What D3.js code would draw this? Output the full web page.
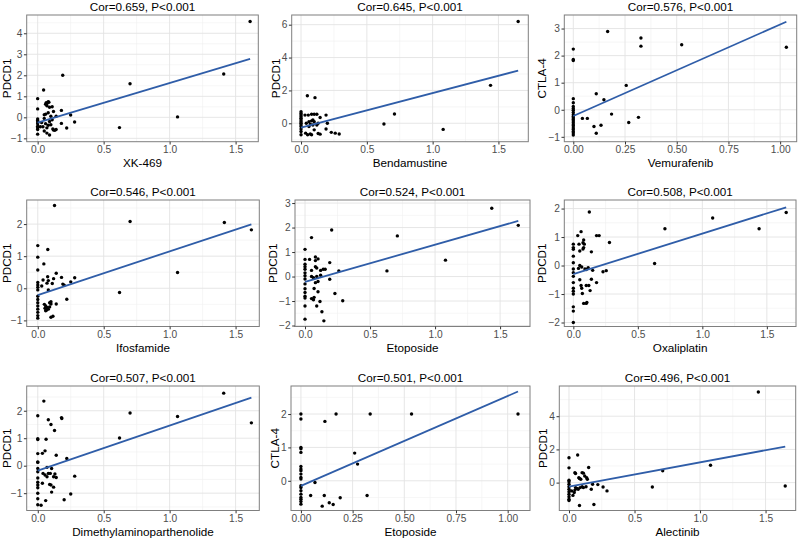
<!DOCTYPE html>
<html lang="en">
<head>
  <meta charset="utf-8" />
  <style>
    body { margin: 0; background: #fff; }
    text { font-family: "Liberation Sans", Arial, sans-serif; }
  </style>
</head>
<body>
  <div id="chart"></div>
  <script src="https://cdnjs.cloudflare.com/ajax/libs/d3/7.8.5/d3.min.js"></script>
  <script>
    // ---- data ----
    const titles = ["Cor=0.659, P<0.001", "Cor=0.645, P<0.001", "Cor=0.576, P<0.001",
      "Cor=0.546, P<0.001", "Cor=0.524, P<0.001", "Cor=0.508, P<0.001",
      "Cor=0.507, P<0.001", "Cor=0.501, P<0.001", "Cor=0.496, P<0.001"];
    const xLabels = ["XK-469", "Bendamustine", "Vemurafenib", "Ifosfamide", "Etoposide",
      "Oxaliplatin", "Dimethylaminoparthenolide", "Etoposide", "Alectinib"];
    const yLabels = ["PDCD1", "PDCD1", "CTLA-4", "PDCD1", "PDCD1", "PDCD1", "PDCD1", "CTLA-4", "PDCD1"];

    const xDomains = [[-0.083, 1.672], [-0.071, 1.727], [-0.0435, 1.08], [-0.084, 1.68], [-0.077, 1.73],
      [-0.07, 1.726], [-0.084, 1.68], [-0.048, 1.108], [-0.074, 1.73]];
    const yDomains = [[-1.16, 4.87], [-1.12, 6.59], [-1.18, 3.50], [-1.19, 2.75], [-2.04, 3.125],
      [-2.14, 2.30], [-1.63, 2.90], [-0.89, 2.84], [-1.68, 5.82]];

    const xTicksA = [0, 0.5, 1.0, 1.5];
    const xTicksB = [0, 0.25, 0.5, 0.75, 1.0];
    const xTicks = [xTicksA, xTicksA, xTicksB, xTicksA, xTicksA, xTicksA, xTicksA, xTicksB, xTicksA];
    const yTicks = [[-1, 0, 1, 2, 3, 4], [0, 2, 4, 6], [-1, 0, 1, 2, 3], [-1, 0, 1, 2], [-2, -1, 0, 1, 2, 3],
      [-2, -1, 0, 1, 2], [-1, 0, 1, 2], [0, 1, 2], [0, 2, 4]];

    // fitted lines: intercept and slope
    const intercepts = [-0.25, -0.26, -0.23, -0.21, -0.22, -0.30, -0.18, -0.15, -0.24];
    const slopes = [1.88, 2.10, 3.38, 1.36, 1.52, 1.42, 1.64, 2.69, 1.46];

    const xk469 = [[1.61,4.56],[1.41,2.06],[0.70,1.60],[0.19,2.0],[1.06,0.02],[0.62,-0.49],
      [0,0.89],[0,0.40],[0,-0.08],[0,-0.15],[0,-0.22],[0,-0.3],[0,-0.42],[0,-0.5],[0,-0.58],[0,-0.8],
      [0.045,1.30],[0.06,0.62],[0.065,0.70],[0.07,0.66],[0.08,0.74],[0.085,0.72],[0.07,0.55],[0.09,0.48],[0.11,0.5],[0.12,0.28],
      [0.05,0.12],[0.06,0.15],[0.08,0.22],[0.1,0.05],[0.14,0.05],[0.18,0.33],[0.18,-0.29],[0.25,0.11],[0.28,-0.22],[0.22,-0.51],
      [0.12,-0.6],[0.13,-0.62],[0.115,-0.55],[0.14,-0.58],[0.09,-0.84],[0.07,-0.75],[0.05,-0.65],[0.04,-0.45],[0.06,-0.3],
      [0.07,-0.5],[0.09,-0.2],[0.1,-0.35],[0.03,-0.25],[0.02,-0.45],[0.08,-0.38],[0.11,-0.12],[0.05,-0.05]];
    const bendamustine = [[1.65,6.19],[1.44,2.31],[0.71,0.57],[0.63,-0.04],[1.08,-0.37],[0.048,1.68],[0.106,1.56],
      [0,0.7],[0,0.6],[0,0.5],[0,0.4],[0,0.3],[0,0.2],[0,0.1],[0,0],[0,-0.1],[0,-0.2],[0,-0.35],[0,-0.5],[0,-0.7],
      [0.03,0.5],[0.055,0.5],[0.08,0.55],[0.1,0.55],[0.12,0.55],[0.19,0.5],
      [0.08,0.15],[0.09,0.2],[0.1,0.1],[0.145,0.35],[0.13,0.0],[0.06,0.1],[0.04,0.0],[0.07,-0.05],[0.12,-0.1],
      [0.19,-0.35],[0.2,0.0],[0.23,-0.55],[0.26,-0.6],[0.29,-0.65],[0.13,-0.62],[0.145,-0.66],
      [0.07,-0.65],[0.05,-0.7],[0.035,-0.6],[0.08,-0.7],[0.1,-0.4],[0.06,-0.2],[0.09,-0.1]];
    const vemurafenib = [[1.03,2.31],[0.524,2.40],[0.327,2.65],[0.327,2.35],[0.166,2.89],[0,2.24],[0,1.86],[0,1.82],
      [0.256,0.90],[0.111,0.59],[0.148,0.37],[0.185,-0.16],[0.268,-0.47],[0.315,-0.28],[0.044,-0.32],[0.068,-0.32],
      [0.1,-0.62],[0.134,-0.57],[0.111,-0.87],
      [0,0.41],[0,0.26],[0,0.12],[0,0.05],[0,-0.02],[0,-0.1],[0,-0.18],[0,-0.25],[0,-0.3],[0,-0.36],[0,-0.42],
      [0,-0.48],[0,-0.55],[0,-0.6],[0,-0.67],[0,-0.73],[0,-0.8],[0,-0.86],[0,-0.93]];
    const ifosfamide = [[0.127,2.58],[0.70,2.08],[1.415,2.05],[1.62,1.82],[1.06,0.49],[0.62,-0.13],
      [0,1.33],[0,0.97],[0,0.57],[0.076,1.21],[0.046,0.76],
      [0,0.18],[0,0.1],[0,0.03],[0,-0.05],[0,-0.25],[0,-0.35],[0,-0.45],[0,-0.55],[0,-0.65],[0,-0.75],[0,-0.85],[0,-0.93],
      [0.03,0.07],[0.04,0.26],[0.075,0.36],[0.08,0.24],[0.07,0.16],[0.12,0.3],[0.11,0.15],[0.14,0.47],[0.18,0.34],
      [0.19,0.13],[0.2,0.1],[0.25,0.2],[0.28,0.33],[0.22,-0.34],[0.14,-0.49],[0.09,-0.45],[0.1,-0.49],
      [0.05,-0.5],[0.06,-0.55],[0.07,-0.6],[0.08,-0.65],[0.055,-0.62],[0.065,-0.68],[0.09,-0.58],[0.1,-0.42],
      [0.115,-0.87],[0.1,-0.9],[0.08,-0.05],[0.06,-0.7]];
    const etoposideA = [[1.436,2.79],[1.64,2.09],[0.71,1.66],[1.08,0.67],[0.63,0.23],[0.205,1.90],[0.05,1.59],[0,1.11],
      [0,0.7],[0,0.5],[0,0.4],[0,0.3],[0,0.15],[0,0.03],[0,-0.1],[0,-0.3],[0,-0.5],[0,-0.65],[0,-0.8],[0,-0.88],[0,-1.2],[0,-1.74],
      [0.035,0.7],[0.08,0.8],[0.1,0.72],[0.08,0.65],[0.08,0.4],[0.12,0.25],[0.14,0.3],[0.155,0.3],[0.09,0.35],[0.05,0.25],
      [0.19,0.57],[0.19,-0.11],[0.26,0.23],[0.23,-0.69],[0.29,-0.99],
      [0.05,0.0],[0.065,-0.05],[0.09,0.0],[0.1,-0.2],[0.12,0.05],[0.08,-0.25],[0.07,-0.49],[0.1,-0.62],[0.05,-0.9],
      [0.065,-0.95],[0.07,-0.85],[0.09,-1.2],[0.115,-1.02],[0.13,-1.44],[0.145,-1.81]];
    const oxaliplatin = [[1.65,1.86],[1.08,1.67],[1.44,1.29],[0.71,1.29],[0.63,0.07],[0.124,1.88],[0.06,1.19],[0.034,1.05],
      [0.08,0.9],[0.075,0.8],[0.085,0.75],[0.18,1.05],[0.2,1.05],[0.28,0.81],[0.044,0.75],[0.05,0.51],[0.08,0.63],
      [0.075,0.58],[0.14,0.48],
      [0,0.75],[0,0.63],[0,0.57],[0,0.33],[0,0.1],[0,-0.12],[0,-0.25],[0,-0.38],[0,-0.6],[0,-0.8],[0,-0.9],[0,-1.0],
      [0,-1.45],[0,-1.6],[0,-2.0],
      [0.05,0.0],[0.04,-0.1],[0.065,-0.05],[0.09,-0.12],[0.1,-0.14],[0.115,-0.08],[0.15,-0.17],[0.23,-0.22],[0.255,-0.18],
      [0.05,-0.5],[0.06,-0.7],[0.065,-0.8],[0.07,-0.98],[0.1,-0.7],[0.12,-0.7],[0.13,-0.88],[0.18,-0.6],[0.14,-0.48],
      [0.08,-1.33],[0.1,-1.33],[0.105,-1.3]];
    const dmapt = [[1.41,2.64],[1.62,1.56],[1.06,1.79],[0.70,1.92],[0.62,1.01],[0.046,2.35],[0,1.82],[0.08,1.67],
      [0.1,1.5],[0.18,1.75],[0.182,1.72],[0.127,1.28],
      [0,0.98],[0,0.95],[0.063,0.96],[0,0.44],[0.035,0.45],[0.055,0.54],[0.14,0.38],[0.22,0.26],
      [0,0.14],[0,0.12],[0,-0.1],[0,-0.22],[0,-0.45],[0,-0.6],[0,-0.7],[0,-0.8],[0,-1.0],[0,-1.2],[0,-1.42],
      [0.07,-0.06],[0.08,-0.28],[0.04,-0.28],[0.055,-0.34],[0.07,-0.4],[0.095,-0.28],[0.105,-0.1],[0.12,-0.4],
      [0.13,-0.3],[0.14,-0.43],[0.28,-0.38],[0.035,-0.64],[0.09,-0.68],[0.1,-0.7],[0.12,-0.78],[0.25,-1.03],
      [0.105,-0.96],[0.2,-1.24],[0.06,-1.27],[0.025,-1.44]];
    const etoposideB = [[1.05,2.0],[0.535,2.0],[0.335,2.0],[0.17,2.0],[0,2.0],[0,1.85],[0.116,1.78],[0,1.0],[0,0.96],
      [0,0.85],[0.26,0.83],[0.274,0.5],[0.068,-0.05],
      [0,0.43],[0,0.35],[0,0.3],[0,0.2],[0,0.1],[0,0.05],[0,-0.15],[0,-0.2],[0,-0.3],[0,-0.4],[0,-0.5],[0,-0.55],
      [0,-0.62],[0,-0.7],
      [0.047,-0.44],[0.113,-0.44],[0.32,-0.44],[0.19,-0.51],[0.137,-0.66],[0.156,-0.71],[0.103,-0.76]];
    const alectinib = [[1.445,5.46],[1.65,-0.2],[1.08,1.05],[0.715,0.71],[0.636,-0.26],[0.066,1.66],[0,1.5],[0,0.89],
      [0.15,0.91],[0.1,0.6],[0.11,0.57],[0.045,0.6],[0.05,0.55],
      [0.075,0.3],[0.08,0.25],[0.09,0.2],[0.12,0.4],[0.135,0.3],[0.14,0.2],
      [0,0.14],[0,0.05],[0,-0.1],[0,-0.25],[0,-0.4],[0,-0.55],[0,-0.7],[0,-0.85],[0,-1.0],[0,-1.08],
      [0.18,-0.1],[0.17,-0.4],[0.22,-0.12],[0.26,-0.26],[0.29,-0.5],[0.08,-1.38],[0.19,-1.32],[0.03,-0.77],
      [0.045,-0.45],[0.06,-0.35],[0.07,-0.4],[0.085,-0.3],[0.1,-0.25],[0.11,-0.3],[0.13,-0.25],[0.02,-0.5],
      [0.05,-0.3],[0.04,-0.6]];

    const points = [xk469, bendamustine, vemurafenib, ifosfamide, etoposideA, oxaliplatin, dmapt, etoposideB, alectinib];

    // ---- layout (panel boxes) ----
    const rowTop = [15, 200, 386], rowBottom = [141.7, 326.5, 510.5];
    const lefts = [26.7, 291.7, 564.3, 26.7, 295, 564.3, 26.7, 291, 559.3];
    const rights = [258.3, 528.3, 796.7, 259.3, 530, 796, 259.3, 530, 795.7];

    const width = 800, height = 540;
    const svg = d3.select("#chart").append("svg")
      .attr("width", width).attr("height", height);

    function minorTicks(ticks, dom) {
      const step = ticks[1] - ticks[0];
      const out = [];
      for (let v = ticks[0] - step / 2; v <= dom[1]; v += step) {
        if (v >= dom[0]) out.push(v);
      }
      return out;
    }

    points.forEach((pts, i) => {
      const row = Math.floor(i / 3);
      const l = lefts[i], r = rights[i], t = rowTop[row], b = rowBottom[row];
      const x = d3.scaleLinear().domain(xDomains[i]).range([l, r]);
      const y = d3.scaleLinear().domain(yDomains[i]).range([b, t]);
      const g = svg.append("g");

      // grid (minor then major)
      g.selectAll("line.vmin").data(minorTicks(xTicks[i], xDomains[i])).join("line")
        .attr("x1", d => x(d)).attr("x2", d => x(d)).attr("y1", t).attr("y2", b)
        .attr("stroke", "#f0f0f0").attr("stroke-width", 0.6);
      g.selectAll("line.hmin").data(minorTicks(yTicks[i], yDomains[i])).join("line")
        .attr("y1", d => y(d)).attr("y2", d => y(d)).attr("x1", l).attr("x2", r)
        .attr("stroke", "#f0f0f0").attr("stroke-width", 0.6);
      g.selectAll("line.vmaj").data(xTicks[i]).join("line")
        .attr("x1", d => x(d)).attr("x2", d => x(d)).attr("y1", t).attr("y2", b)
        .attr("stroke", "#e3e3e3").attr("stroke-width", 0.9);
      g.selectAll("line.hmaj").data(yTicks[i]).join("line")
        .attr("y1", d => y(d)).attr("y2", d => y(d)).attr("x1", l).attr("x2", r)
        .attr("stroke", "#e3e3e3").attr("stroke-width", 0.9);

      // points
      g.selectAll("circle").data(pts).join("circle")
        .attr("cx", d => x(d[0])).attr("cy", d => y(d[1]))
        .attr("r", 1.7).attr("fill", "#000");

      // fitted line
      const xmax = d3.max(pts, d => d[0]);
      const fit = [0, xmax].map(v => [v, intercepts[i] + slopes[i] * v]);
      g.append("path")
        .attr("d", d3.line().x(d => x(d[0])).y(d => y(d[1]))(fit))
        .attr("fill", "none").attr("stroke", "#2f5da8").attr("stroke-width", 1.8);

      // border
      g.append("rect").attr("x", l).attr("y", t).attr("width", r - l).attr("height", b - t)
        .attr("fill", "none").attr("stroke", "#7f7f7f").attr("stroke-width", 1);

      // axes
      const xFmt = xTicks[i] === xTicksB ? d3.format(".2f") : d3.format(".1f");
      const xa = g.append("g").attr("transform", `translate(0,${b})`)
        .call(d3.axisBottom(x).tickValues(xTicks[i]).tickFormat(xFmt).tickSize(2.8).tickPadding(1));
      const ya = g.append("g").attr("transform", `translate(${l},0)`)
        .call(d3.axisLeft(y).tickValues(yTicks[i]).tickFormat(d3.format("d")).tickSize(2.8).tickPadding(1.5));
      [xa, ya].forEach(a => {
        a.select(".domain").remove();
        a.selectAll("line").attr("stroke", "#333");
        a.selectAll("text").attr("fill", "#4d4d4d").attr("font-size", 10.2)
          .attr("font-family", "'Liberation Sans', Arial, sans-serif");
      });

      let labW = 0;
      ya.selectAll("text").each(function () { labW = Math.max(labW, this.getComputedTextLength()); });

      // titles
      g.append("text").attr("x", (l + r) / 2).attr("y", t - 4)
        .attr("text-anchor", "middle").attr("font-size", 11.7).attr("fill", "#000")
        .text(titles[i]);
      g.append("text").attr("x", (l + r) / 2).attr("y", b + 25)
        .attr("text-anchor", "middle").attr("font-size", 11.7).attr("fill", "#000")
        .text(xLabels[i]);
      const yx = Math.max(10.8, l - 2.8 - 1.5 - labW - 2);
      g.append("text")
        .attr("transform", `translate(${yx},${(t + b) / 2}) rotate(-90)`)
        .attr("text-anchor", "middle").attr("font-size", 11.7).attr("fill", "#000")
        .text(yLabels[i]);
    });
  </script>
</body>
</html>
